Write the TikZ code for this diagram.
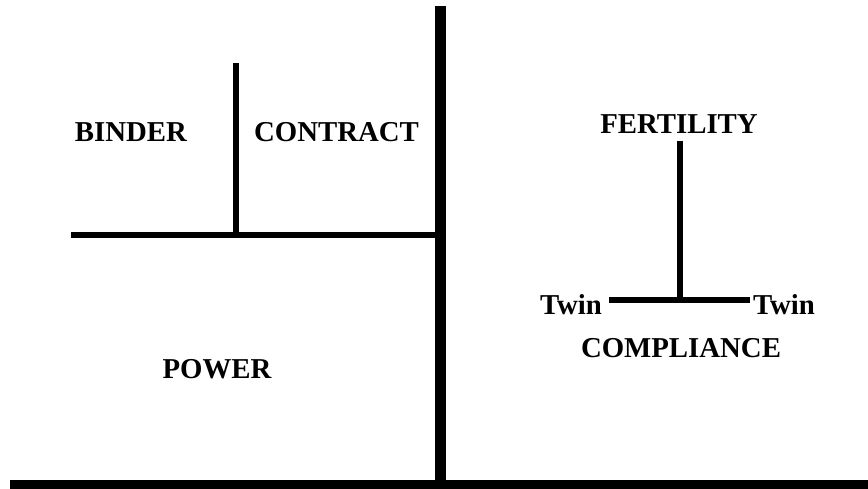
\documentclass[tikz,border=0pt]{standalone}
\usepackage{fontspec}
\setmainfont{Liberation Serif}
\usepackage{tikz}

\begin{document}
\begin{tikzpicture}[x=1pt, y=-1pt, lbl/.style={font=\bfseries\fontsize{28.8}{32}\selectfont, inner sep=0pt, anchor=base}, heavy/.style={line width=11pt}, rule/.style={line width=6pt}]
\useasboundingbox (0,0) rectangle (868,489);
\coordinate (top) at (440.5,6);
\coordinate (foot) at (440.5,485);
\coordinate (floorL) at (10,485);
\coordinate (floorR) at (880,485);
\coordinate (shelfL) at (71,235);
\coordinate (shelfR) at (440.5,235);
\coordinate (postT) at (236,63);
\coordinate (postB) at (236,235);
\coordinate (stemT) at (680,141);
\coordinate (stemB) at (680,300);
\coordinate (barL) at (609,300);
\coordinate (barR) at (750,300);
\node[lbl] (binder) at (131,142) {BINDER};
\node[lbl] (contract) at (336.5,142) {CONTRACT};
\node[lbl] (power) at (217,378) {POWER};
\node[lbl] (fertility) at (679,134) {FERTILITY};
\node[lbl] (twinL) at (571,315) {Twin};
\node[lbl] (twinR) at (784,315) {Twin};
\node[lbl] (compliance) at (681,357) {COMPLIANCE};
\draw[heavy] (top)--(foot);
\draw[heavy] (floorL)--(floorR);
\draw[rule] (shelfL)--(shelfR);
\draw[rule] (postT)--(postB);
\draw[rule] (stemT)--(stemB);
\draw[rule] (barL)--(barR);
\end{tikzpicture}
\end{document}
